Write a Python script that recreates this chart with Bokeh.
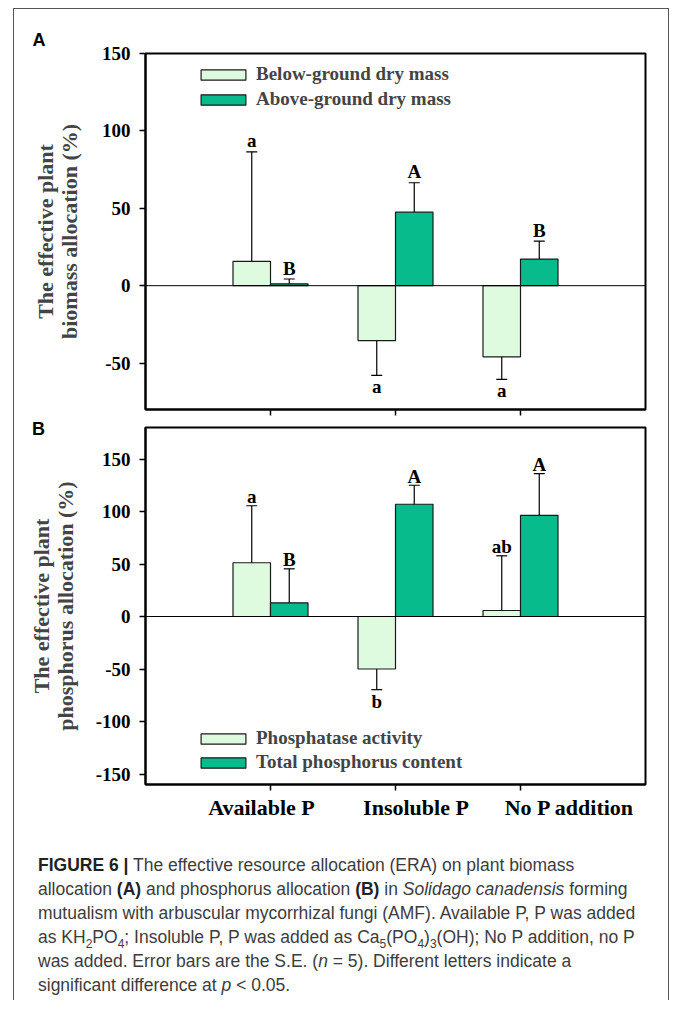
from bokeh.plotting import figure
from bokeh.models import (Range1d, FixedTicker, Span, Legend, LegendItem, Div, Spacer,
                          Title, LinearAxis, CustomLabelingPolicy)
from bokeh.layouts import column, row
from bokeh.embed import file_html
from bokeh.resources import INLINE
from bokeh.core.properties import value

# ---------------- data ----------------
categories = ["Available P", "Insoluble P", "No P addition"]

# Panel A: effective plant biomass allocation (%)
below_mass = [15.7, -35.5, -46.0]
below_mass_se = [70.8, 22.5, 14.6]
above_mass = [1.2, 47.5, 17.2]
above_mass_se = [3.1, 19.0, 11.6]
below_mass_letters = ["a", "a", "a"]
above_mass_letters = ["B", "A", "B"]

# Panel B: effective plant phosphorus allocation (%)
phosphatase = [51.2, -50.0, 5.7]
phosphatase_se = [54.3, 19.7, 52.1]
total_p = [13.0, 106.9, 96.4]
total_p_se = [32.4, 18.1, 39.6]
phosphatase_letters = ["a", "b", "ab"]
total_p_letters = ["B", "A", "A"]

yticks_a = [-50, 0, 50, 100, 150]
yticks_b = [-150, -100, -50, 0, 50, 100, 150]

# ---------------- style ----------------
LIGHT = "#dffbdf"
DARK = "#08bb8c"
SERIF = "Liberation Serif"
SANS = "Liberation Sans"
BAR_W = 0.3
FIG_W = 654
LABEL_SHIFT = [-0.072, 0.164, 0.392]   # horizontal shift of the category labels (layout)

NO_LABELS = CustomLabelingPolicy(code="""
    for (const i of indices) { indices.unset(i) }
    return indices
""")


def add_series(p, vals, ses, letters, side, color, up_off):
    xs = [i + 1 + side * BAR_W / 2 for i in range(len(vals))]
    r = p.vbar(x=xs, bottom=0, top=vals, width=BAR_W, fill_color=color,
               line_color="#1a1a1a", line_width=1.2)
    ends = [v + s if v >= 0 else v - s for v, s in zip(vals, ses)]
    p.segment(x0=xs, y0=vals, x1=xs, y1=ends, line_color="black", line_width=1.2)
    p.dash(x=xs, y=ends, size=11, line_color="black", line_width=1.2)
    pos = [(x, e, t) for x, e, t, v in zip(xs, ends, letters, vals) if v >= 0]
    neg = [(x, e, t) for x, e, t, v in zip(xs, ends, letters, vals) if v < 0]
    common = dict(text_font=value(SERIF), text_font_style="bold",
                  text_font_size="19px", text_align="center", text_color="black")
    if pos:
        p.text(x=[a[0] for a in pos], y=[a[1] for a in pos], text=[a[2] for a in pos],
               text_baseline="alphabetic", y_offset=up_off, **common)
    if neg:
        p.text(x=[a[0] for a in neg], y=[a[1] for a in neg], text=[a[2] for a in neg],
               text_baseline="top", y_offset=1, **common)
    return r


def make_panel(height, yr, yticks, ylabel, mb_top, mb_bottom, label_standoff):
    p = figure(width=FIG_W, height=height, x_range=Range1d(0, 4), y_range=Range1d(*yr),
               output_backend="svg", toolbar_location=None,
               min_border_left=131, min_border_right=23,
               min_border_top=mb_top, min_border_bottom=mb_bottom)
    p.xgrid.visible = False
    p.ygrid.visible = False
    p.outline_line_color = "black"
    p.outline_line_width = 2
    p.background_fill_color = "white"
    p.border_fill_color = "white"

    p.yaxis.ticker = FixedTicker(ticks=yticks)
    p.yaxis.major_label_overrides = {t: str(t) for t in yticks}
    p.yaxis.axis_label = ylabel
    p.yaxis.axis_label_text_font = SERIF
    p.yaxis.axis_label_text_font_style = "bold"
    p.yaxis.axis_label_text_font_size = "22px"
    p.yaxis.axis_label_text_line_height = 0.95
    p.yaxis.axis_label_standoff = label_standoff
    p.yaxis.major_label_text_font = SERIF
    p.yaxis.major_label_text_font_style = "bold"
    p.yaxis.major_label_text_font_size = "19px"
    p.yaxis.major_label_text_color = "black"
    p.yaxis.major_label_standoff = 9
    p.yaxis.major_tick_out = 6
    p.yaxis.major_tick_in = 0
    p.yaxis.major_tick_line_width = 1.5
    p.yaxis.minor_tick_line_color = None
    p.yaxis.axis_line_width = 2

    p.xaxis.ticker = FixedTicker(ticks=[1, 2, 3])
    p.xaxis.major_label_policy = NO_LABELS
    p.xaxis.major_label_text_font_size = "0px"
    p.xaxis.major_label_standoff = 0
    p.xaxis.major_tick_out = 6
    p.xaxis.major_tick_in = 0
    p.xaxis.major_tick_line_width = 1.5
    p.xaxis.minor_tick_line_color = None
    p.xaxis.axis_line_width = 2

    p.add_layout(Span(location=0, dimension="width", line_color="black", line_width=1))
    return p


def style_legend(p, items, loc, spacing):
    lg = Legend(items=items, location=loc, orientation="vertical",
                glyph_width=56, glyph_height=13, label_standoff=5, spacing=spacing,
                padding=0, margin=0, border_line_alpha=0, background_fill_alpha=0,
                label_text_font=SERIF, label_text_font_style="bold",
                label_text_font_size="19px", label_height=20)
    p.add_layout(lg)


# ---------------- panel A ----------------
pa = make_panel(409, (-80, 150), yticks_a, "The effective plant\nbiomass allocation (%)",
                44, 9, 17)
pa.title = Title(text="A", align="left", offset=-113, standoff=7, text_font=SANS,
                 text_font_style="bold", text_font_size="18px", text_color="black")
ra1 = add_series(pa, below_mass, below_mass_se, below_mass_letters, -1, LIGHT, -11)
ra2 = add_series(pa, above_mass, above_mass_se, above_mass_letters, 1, DARK, -11)
style_legend(pa, [LegendItem(label="Below-ground dry mass", renderers=[ra1]),
                  LegendItem(label="Above-ground dry mass", renderers=[ra2])], (50, 299), 3)

# ---------------- panel B ----------------
pb = make_panel(412, (-160, 180), yticks_b, "The effective plant\nphosphorus allocation (%)",
                9, 46, 15)
rb1 = add_series(pb, phosphatase, phosphatase_se, phosphatase_letters, -1, LIGHT, -9)
rb2 = add_series(pb, total_p, total_p_se, total_p_letters, 1, DARK, -9)
style_legend(pb, [LegendItem(label="Phosphatase activity", renderers=[rb1]),
                  LegendItem(label="Total phosphorus content", renderers=[rb2])], (50, 11), 2)

label_ticks = [i + 1 + d for i, d in enumerate(LABEL_SHIFT)]
cat_axis = LinearAxis(ticker=FixedTicker(ticks=label_ticks),
                      major_label_overrides={t: c for t, c in zip(label_ticks, categories)},
                      axis_line_color=None, major_tick_line_color=None,
                      minor_tick_line_color=None, major_tick_out=0, major_tick_in=0,
                      major_label_standoff=4, major_label_text_font=SERIF,
                      major_label_text_font_style="bold", major_label_text_font_size="22px",
                      major_label_text_color="black")
pb.add_layout(cat_axis, "below")

# ---------------- caption (also carries the overlaid panel letter B) ----------------
SUB = '<sub style="font-size:12px;line-height:0">'
caption_html = (
    '<div style="position:absolute;left:18px;top:-410px;z-index:10;'
    'font:bold 18px/18px \'Liberation Sans\',Arial,sans-serif;color:#000">B</div>'
    '<div style="font-family:\'Liberation Sans\',Arial,sans-serif;font-size:17.5px;'
    'line-height:24px;color:#3c3c3c;padding:23px 0 0 24px;white-space:nowrap">'
    '<b style="color:#222">FIGURE 6 |</b> The effective resource allocation (ERA) on plant biomass<br>'
    'allocation <b style="color:#222">(A)</b> and phosphorus allocation <b style="color:#222">(B)</b> in '
    '<i>Solidago canadensis</i> forming<br>'
    'mutualism with arbuscular mycorrhizal fungi (AMF). Available P, P was added<br>'
    'as KH' + SUB + '2</sub>PO' + SUB + '4</sub>; Insoluble P, P was added as Ca' + SUB + '5</sub>(PO'
    + SUB + '4</sub>)' + SUB + '3</sub>(OH); No P addition, no P<br>'
    'was added. Error bars are the S.E. (<i>n</i> = 5). Different letters indicate a<br>'
    'significant difference at <i>p</i> &lt; 0.05.'
    '</div>')
cap = Div(text=caption_html, width=FIG_W, height=170, margin=0)

col = column(pa, pb, cap, styles={"border-top": "1px solid #555",
                                  "border-left": "1px solid #555",
                                  "border-right": "1px solid #555"})
layout = row(Spacer(width=13), column(Spacer(height=8), col))

open("out.html", "w").write(file_html(layout, INLINE))
